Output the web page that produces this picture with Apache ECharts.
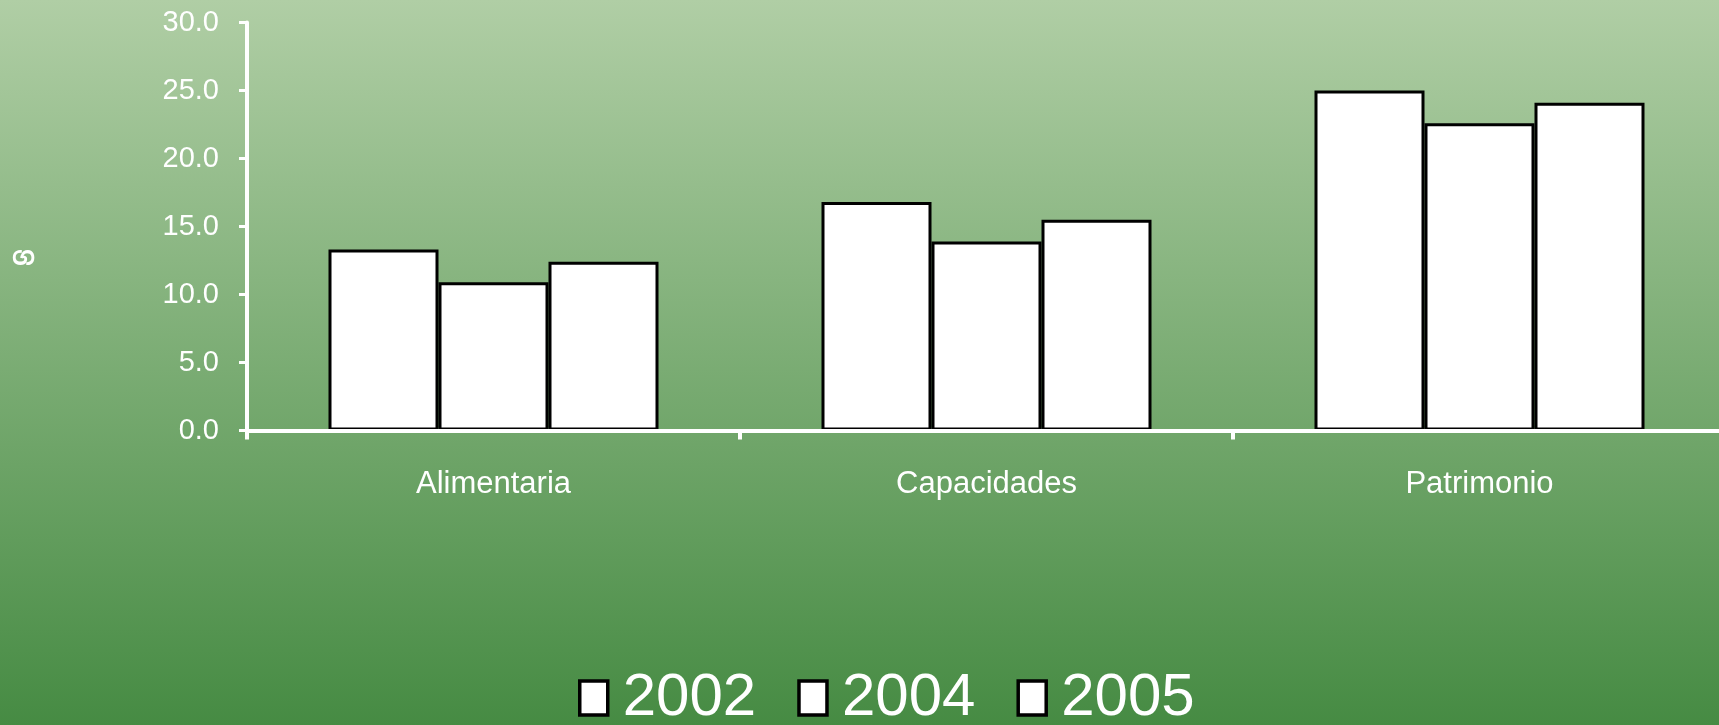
<!DOCTYPE html>
<html><head><meta charset="utf-8">
<script src="https://cdn.jsdelivr.net/npm/echarts@6/dist/echarts.min.js"></script>
<style>html,body{margin:0;padding:0;width:1719px;height:725px;overflow:hidden}#c{width:1719px;height:725px}</style>
</head><body><div id="c"></div>
<script>
const categories = ['Alimentaria', 'Capacidades', 'Patrimonio'];
const seriesNames = ['2002', '2004', '2005'];
const values2002 = [13.3, 16.8, 25.0];
const values2004 = [10.9, 13.9, 22.6];
const values2005 = [12.4, 15.5, 24.1];
const yMin = 0, yMax = 30, yStep = 5;
const yAxisName = 'ග';

const allValues = [values2002, values2004, values2005];
const chart = echarts.init(document.getElementById('c'), null, {renderer: 'canvas'});
const barStyle = {color: '#ffffff', borderColor: '#000000', borderWidth: 3};
const option = {
  animation: false,
  backgroundColor: new echarts.graphic.LinearGradient(0, 0, 0, 1, [
    {offset: 0, color: '#b0cea5'},
    {offset: 1, color: '#468b43'}
  ]),
  grid: {left: 247, top: 22.5, bottom: 294.5, right: -7, containLabel: false, outerBoundsMode: 'none'},
  legend: {
    data: seriesNames,
    left: 578, top: 668, padding: 0,
    icon: 'rect', itemWidth: 28, itemHeight: 34, itemGap: 41,
    itemStyle: {color: '#ffffff', borderColor: '#000000', borderWidth: 3.5},
    textStyle: {color: '#ffffff', fontSize: 60,
      fontFamily: '"Liberation Sans", Arial, sans-serif',
      padding: [0, 0, 0, 10]}
  },
  graphic: [{
    type: 'text', left: 12, top: 246, z: 10,
    style: {text: yAxisName, fill: '#ffffff', fontSize: 25,
      fontFamily: '"Noto Sans Sinhala", "Noto Sans", sans-serif', fontWeight: 'bold'}
  }],
  xAxis: {
    type: 'category', data: categories, z: 10,
    axisLine: {lineStyle: {color: '#ffffff', width: 4}},
    axisTick: {show: true, length: 9, lineStyle: {color: '#ffffff', width: 4}},
    axisLabel: {color: '#ffffff', fontSize: 31, margin: 38,
      fontFamily: '"Liberation Sans", Arial, sans-serif'},
    splitLine: {show: false}
  },
  yAxis: {
    type: 'value', min: yMin, max: yMax, interval: yStep, z: 10,
    axisLine: {show: true, lineStyle: {color: '#ffffff', width: 4}},
    axisTick: {show: true, length: 8, lineStyle: {color: '#ffffff', width: 3}},
    axisLabel: {color: '#ffffff', fontSize: 29, margin: 28, padding: [3, 0, 0, 0],
      fontFamily: '"Liberation Sans", Arial, sans-serif',
      formatter: v => v.toFixed(1)},
    splitLine: {show: false}
  },
  series: seriesNames.map((n, i) => ({
    name: n, type: 'bar', data: allValues[i],
    barWidth: 110, barGap: '0%',
    itemStyle: barStyle
  }))
};
chart.setOption(option);
</script></body></html>
